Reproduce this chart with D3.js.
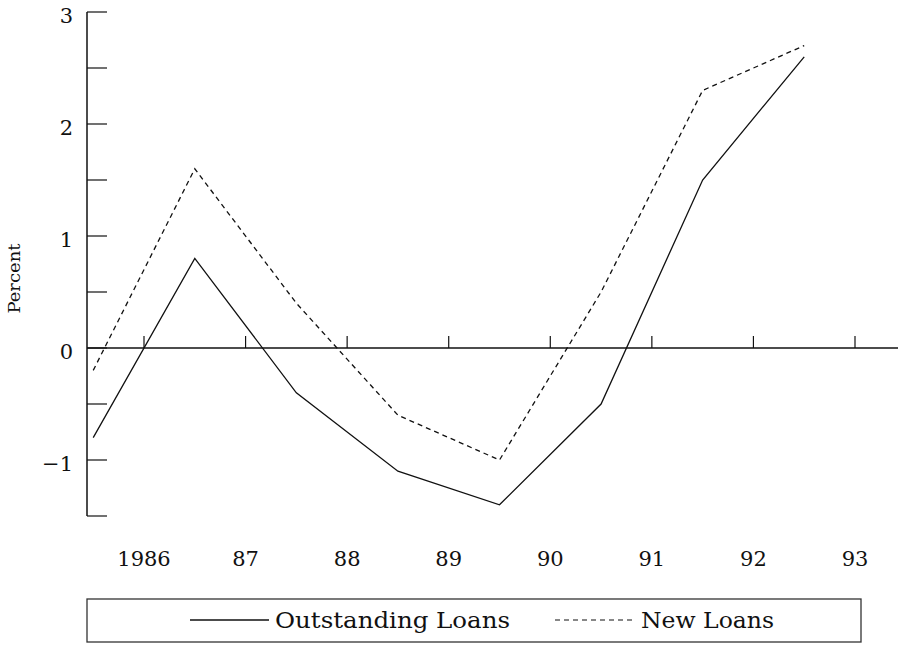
<!DOCTYPE html>
<html>
<head>
<meta charset="utf-8">
<script src="https://cdn.jsdelivr.net/npm/d3@7"></script>
<style>
  html, body { margin: 0; padding: 0; background: #fff; }
  svg { display: block; }
  text { font-family: "DejaVu Serif", serif; fill: #111; }
</style>
</head>
<body>
<svg id="chart" width="898" height="645"></svg>
<script>
// Data
const years = [1985.5, 1986.5, 1987.5, 1988.5, 1989.5, 1990.5, 1991.5, 1992.5];
const outstandingLoans = [-0.8, 0.8, -0.4, -1.1, -1.4, -0.5, 1.5, 2.6];
const newLoans = [-0.2, 1.6, 0.4, -0.6, -1.0, 0.5, 2.3, 2.7];
const xTickValues = [1986, 1987, 1988, 1989, 1990, 1991, 1992, 1993];
const xTickLabels = ["1986", "87", "88", "89", "90", "91", "92", "93"];
const yTickValues = [-1.5, -1, -0.5, 0, 0.5, 1, 1.5, 2, 2.5, 3];
const yLabelValues = [-1, 0, 1, 2, 3];
const seriesNames = ["Outstanding Loans", "New Loans"];

const svg = d3.select("#chart");
const axisX = 87;

const x = d3.scaleLinear().domain([1986, 1993]).range([144, 855]);
const y = d3.scaleLinear().domain([-1.5, 3]).range([516, 12]);

// Y axis line
svg.append("line")
  .attr("x1", axisX).attr("x2", axisX)
  .attr("y1", y(3)).attr("y2", y(-1.5))
  .attr("stroke", "#111").attr("stroke-width", 1.5);

// Y ticks (pointing right)
svg.selectAll(".ytick").data(yTickValues).join("line")
  .attr("x1", axisX).attr("x2", axisX + 20)
  .attr("y1", d => y(d)).attr("y2", d => y(d))
  .attr("stroke", "#111").attr("stroke-width", 1.2);

// Y labels
svg.selectAll(".ylab").data(yLabelValues).join("text")
  .attr("x", 73).attr("y", d => y(d) + 11)
  .attr("text-anchor", "end")
  .attr("font-size", 21)
  .text(d => d < 0 ? "\u2212" + Math.abs(d) : d);

// Y title
svg.append("text")
  .attr("transform", `translate(20, ${y(0.62)}) rotate(-90)`)
  .attr("text-anchor", "middle")
  .attr("font-size", 17)
  .attr("textLength", 70)
  .attr("lengthAdjust", "spacingAndGlyphs")
  .text("Percent");

// Zero line
svg.append("line")
  .attr("x1", axisX).attr("x2", 898)
  .attr("y1", y(0)).attr("y2", y(0))
  .attr("stroke", "#111").attr("stroke-width", 1.5);

// X ticks (pointing up from zero line)
svg.selectAll(".xtick").data(xTickValues).join("line")
  .attr("x1", d => x(d)).attr("x2", d => x(d))
  .attr("y1", y(0)).attr("y2", y(0) - 12)
  .attr("stroke", "#111").attr("stroke-width", 1.2);

// X labels
svg.selectAll(".xlab").data(xTickValues).join("text")
  .attr("x", d => x(d)).attr("y", 566)
  .attr("text-anchor", "middle")
  .attr("font-size", 21)
  .text((d, i) => xTickLabels[i]);

// Lines
const line = d3.line().x(d => x(d[0])).y(d => y(d[1]));
svg.append("path")
  .datum(years.map((yr, i) => [yr, outstandingLoans[i]]))
  .attr("d", line)
  .attr("fill", "none").attr("stroke", "#111").attr("stroke-width", 1.3);
svg.append("path")
  .datum(years.map((yr, i) => [yr, newLoans[i]]))
  .attr("d", line)
  .attr("fill", "none").attr("stroke", "#111").attr("stroke-width", 1.3)
  .attr("stroke-dasharray", "5,4");

// Legend
svg.append("rect")
  .attr("x", 87).attr("y", 599).attr("width", 774).attr("height", 43)
  .attr("fill", "none").attr("stroke", "#333").attr("stroke-width", 1.3);
const legendY = 620;
svg.append("line")
  .attr("x1", 190).attr("x2", 269).attr("y1", legendY).attr("y2", legendY)
  .attr("stroke", "#111").attr("stroke-width", 1.3);
svg.append("text")
  .attr("x", 275).attr("y", legendY + 8)
  .attr("font-size", 22)
  .attr("textLength", 235)
  .attr("lengthAdjust", "spacingAndGlyphs")
  .text(seriesNames[0]);
svg.append("line")
  .attr("x1", 555).attr("x2", 635).attr("y1", legendY).attr("y2", legendY)
  .attr("stroke", "#111").attr("stroke-width", 1.1)
  .attr("stroke-dasharray", "5,4");
svg.append("text")
  .attr("x", 641).attr("y", legendY + 8)
  .attr("font-size", 22)
  .attr("textLength", 133)
  .attr("lengthAdjust", "spacingAndGlyphs")
  .text(seriesNames[1]);
</script>
</body>
</html>
